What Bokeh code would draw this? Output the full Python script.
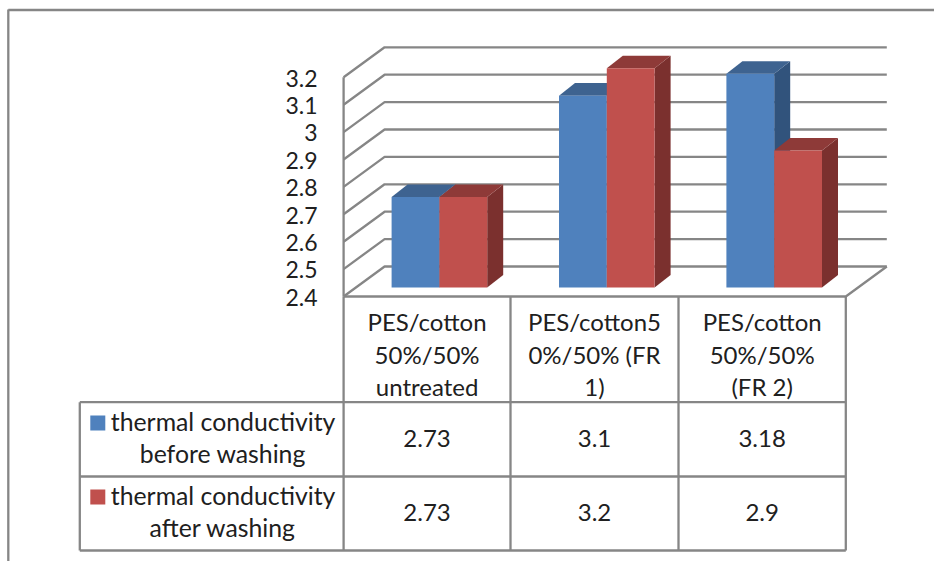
from bokeh.core.properties import value as fv
from bokeh.embed import file_html
from bokeh.models import Range1d
from bokeh.plotting import figure
from bokeh.resources import INLINE

categories = ["PES/cotton\n50%/50%\nuntreated", "PES/cotton5\n0%/50% (FR\n1)", "PES/cotton\n50%/50%\n(FR 2)"]
series_names = ["thermal conductivity\nbefore washing", "thermal conductivity\nafter washing"]
before_washing = [2.73, 3.1, 3.18]
after_washing = [2.73, 3.2, 2.9]
tick_values = [2.4, 2.5, 2.6, 2.7, 2.8, 2.9, 3.0, 3.1, 3.2]
tick_labels = ["2.4", "2.5", "2.6", "2.7", "2.8", "2.9", "3", "3.1", "3.2"]
row_labels_2dp = [["2.73", "3.1", "3.18"], ["2.73", "3.2", "2.9"]]

W, H = 934, 561
OX, OY = 0.7, 0
FONT = "Lato"
FS = "24px"
TXT = "#202020"
GRID = "#868686"
LW = 2.3
BLUE = ["#4f81bd", "#3e6390", "#31537c"]
RED = ["#c0504d", "#8e3a38", "#7b302e"]

CAT_PX = 167.4
VAL_PX = 274.0
X0, Y0 = 343.8, 296.0   # page pixel of category 0 / value 2.4


def X(px):
    return (px - X0) / CAT_PX


def Y(py):
    return 2.4 + (Y0 - py) / VAL_PX


p = figure(width=W, height=H, output_backend="svg", toolbar_location=None,
           x_axis_type=None, y_axis_type=None, min_border=0,
           x_range=Range1d(X(OX), X(OX + W)), y_range=Range1d(Y(OY + H), Y(OY)))
p.outline_line_color = None
p.background_fill_color = "white"


def line(x0, y0, x1, y1, width=LW):
    p.line([X(x0), X(x1)], [Y(y0), Y(y1)], line_color=GRID, line_width=width)


def text(px, py, s, align="center", size=FS):
    p.text([X(px)], [Y(py)], text=[s], text_font=fv(FONT), text_font_size=size, text_color=TXT,
           text_align=align, text_baseline="middle")


# outer frame
line(8.5, 9.5, 935, 9.5)
line(8.5, 9, 8.5, 561)

# walls, floor, grid
DX, DY = 41 / CAT_PX, 30 / VAL_PX
for v in tick_values:
    p.line([0, DX, X(887)], [v, v + DY, v + DY], line_color=GRID, line_width=LW)
p.line([0, 0], [2.4, 3.2], line_color=GRID, line_width=LW)
p.line([0, 3, X(887)], [2.4, 2.4, 2.4 + DY], line_color=GRID, line_width=LW)

# bars
BAR_W = 47.8 / CAT_PX
GROUP_OFF = 48.0 / CAT_PX
BASE = 9.0 / VAL_PX
SX, SY = 16 / CAT_PX, 12.6 / VAL_PX
for s, (vals, cols) in enumerate(((before_washing, BLUE), (after_washing, RED))):
    for c, v in enumerate(vals):
        l = c + GROUP_OFF + s * BAR_W
        r = l + BAR_W
        top = v + BASE
        bot = 2.4 + BASE
        p.patch([r, r + SX, r + SX, r], [bot, bot + SY, top + SY, top], fill_color=cols[2], line_color=None)
        p.patch([l, l + SX, r + SX, r], [top, top + SY, top + SY, top], fill_color=cols[1], line_color=None)
        p.vbar(x=[(l + r) / 2], width=BAR_W, bottom=bot, top=top, fill_color=cols[0], line_color=None)

# tick labels
for v, lab in zip(tick_values, tick_labels):
    p.text([X(317.7)], [v - 0.8 / VAL_PX], text=[lab], text_font=fv(FONT), text_font_size="23px", text_color=TXT,
           text_align="right", text_baseline="middle")

# data table
rows_y = [401.7, 476, 550]
cols_x = [343.8, 510.7, 678.7, 846]
for y in rows_y:
    line(80, y, 846, y)
line(80, 401.7, 80, 550)
for x in cols_x:
    line(x, 296, x, 550)

for i, cat in enumerate(categories):
    cx = (cols_x[i] + cols_x[i + 1]) / 2
    for j, part in enumerate(cat.split("\n")):
        text(cx, 321 + j * 32.5, part)

for r, name in enumerate(series_names):
    y = [421, 495][r]
    first, second = name.split("\n")
    text(111, y, first, align="left", size="24.8px")
    text(223, y + 32, second, size="24.8px")
    p.quad(left=X(90.5), right=X(105.5), top=Y(y - 6), bottom=Y(y + 9),
           fill_color=(BLUE if r == 0 else RED)[0], line_color=None)
    for i, s in enumerate(row_labels_2dp[r]):
        text((cols_x[i] + cols_x[i + 1]) / 2, [437.5, 512][r], s)

open("out.html", "w").write(file_html(p, INLINE))
